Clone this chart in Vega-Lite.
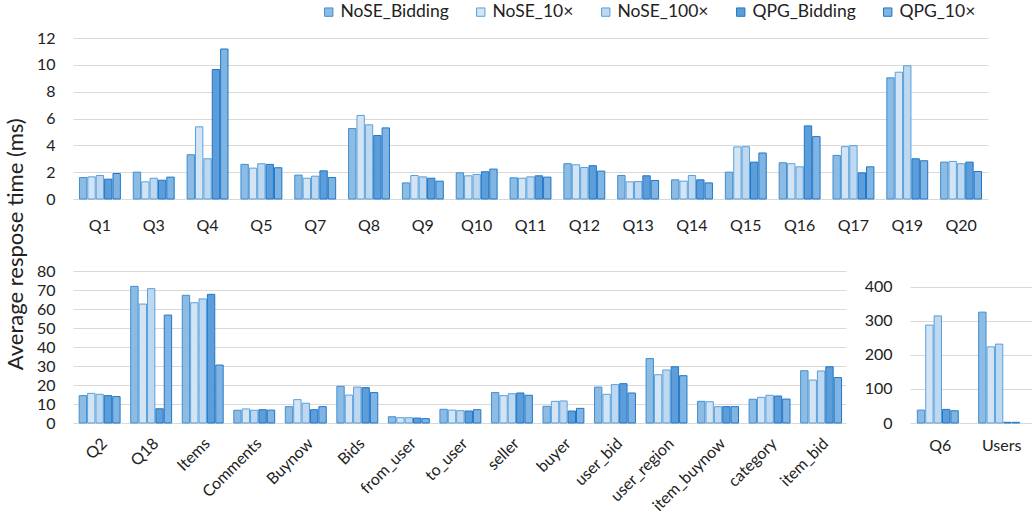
{
  "$schema": "https://vega.github.io/schema/vega-lite/v6.json",
  "background": "white",
  "padding": {"left": 4, "top": 3, "right": 0, "bottom": 0},
  "title": {
    "text": "Average respose time (ms)",
    "orient": "left",
    "anchor": "middle",
    "font": "Lato",
    "fontSize": 22,
    "fontWeight": "normal",
    "color": "#222222",
    "offset": 3,
    "dx": 14
  },
  "config": {
    "view": {"stroke": null},
    "font": "Lato",
    "axis": {
      "labelFont": "Lato",
      "labelFontSize": 16,
      "labelColor": "#222222",
      "domain": false,
      "ticks": false,
      "title": null,
      "gridColor": "#d9d9d9",
      "gridWidth": 1
    },
    "axisX": {"grid": false, "labelPadding": 18},
    "axisY": {"labelPadding": 18},
    "bar": {"strokeWidth": 1},
    "legend": {
      "labelFont": "Lato",
      "labelFontSize": 17.5,
      "labelColor": "#222222",
      "symbolType": "square",
      "symbolSize": 70,
      "symbolStrokeWidth": 1,
      "columnPadding": 23,
      "labelOffset": 3
    }
  },
  "datasets": {
    "queries": [
      {"q": "Q1", "NoSE_Bidding": 1.6, "NoSE_10×": 1.65, "NoSE_100×": 1.75, "QPG_Bidding": 1.48, "QPG_10×": 1.9},
      {"q": "Q3", "NoSE_Bidding": 2.0, "NoSE_10×": 1.28, "NoSE_100×": 1.55, "QPG_Bidding": 1.4, "QPG_10×": 1.63},
      {"q": "Q4", "NoSE_Bidding": 3.3, "NoSE_10×": 5.38, "NoSE_100×": 3.0, "QPG_Bidding": 9.65, "QPG_10×": 11.18},
      {"q": "Q5", "NoSE_Bidding": 2.58, "NoSE_10×": 2.3, "NoSE_100×": 2.63, "QPG_Bidding": 2.58, "QPG_10×": 2.33},
      {"q": "Q7", "NoSE_Bidding": 1.78, "NoSE_10×": 1.55, "NoSE_100×": 1.7, "QPG_Bidding": 2.1, "QPG_10×": 1.6},
      {"q": "Q8", "NoSE_Bidding": 5.25, "NoSE_10×": 6.23, "NoSE_100×": 5.53, "QPG_Bidding": 4.73, "QPG_10×": 5.3},
      {"q": "Q9", "NoSE_Bidding": 1.2, "NoSE_10×": 1.75, "NoSE_100×": 1.65, "QPG_Bidding": 1.55, "QPG_10×": 1.33},
      {"q": "Q10", "NoSE_Bidding": 1.95, "NoSE_10×": 1.73, "NoSE_100×": 1.83, "QPG_Bidding": 2.03, "QPG_10×": 2.23},
      {"q": "Q11", "NoSE_Bidding": 1.58, "NoSE_10×": 1.55, "NoSE_100×": 1.65, "QPG_Bidding": 1.73, "QPG_10×": 1.63},
      {"q": "Q12", "NoSE_Bidding": 2.63, "NoSE_10×": 2.55, "NoSE_100×": 2.35, "QPG_Bidding": 2.48, "QPG_10×": 2.08},
      {"q": "Q13", "NoSE_Bidding": 1.75, "NoSE_10×": 1.28, "NoSE_100×": 1.3, "QPG_Bidding": 1.73, "QPG_10×": 1.38},
      {"q": "Q14", "NoSE_Bidding": 1.43, "NoSE_10×": 1.33, "NoSE_100×": 1.75, "QPG_Bidding": 1.43, "QPG_10×": 1.2},
      {"q": "Q15", "NoSE_Bidding": 2.0, "NoSE_10×": 3.88, "NoSE_100×": 3.9, "QPG_Bidding": 2.75, "QPG_10×": 3.43},
      {"q": "Q16", "NoSE_Bidding": 2.7, "NoSE_10×": 2.63, "NoSE_100×": 2.4, "QPG_Bidding": 5.45, "QPG_10×": 4.65},
      {"q": "Q17", "NoSE_Bidding": 3.25, "NoSE_10×": 3.9, "NoSE_100×": 3.98, "QPG_Bidding": 1.95, "QPG_10×": 2.4},
      {"q": "Q19", "NoSE_Bidding": 9.03, "NoSE_10×": 9.45, "NoSE_100×": 9.93, "QPG_Bidding": 3.0, "QPG_10×": 2.85},
      {"q": "Q20", "NoSE_Bidding": 2.75, "NoSE_10×": 2.8, "NoSE_100×": 2.63, "QPG_Bidding": 2.75, "QPG_10×": 2.05}
    ],
    "entities": [
      {"q": "Q2", "NoSE_Bidding": 14.4, "NoSE_10×": 15.6, "NoSE_100×": 15.1, "QPG_Bidding": 14.4, "QPG_10×": 13.9},
      {"q": "Q18", "NoSE_Bidding": 71.9, "NoSE_10×": 62.6, "NoSE_100×": 70.7, "QPG_Bidding": 7.5, "QPG_10×": 56.8},
      {"q": "Items", "NoSE_Bidding": 67.2, "NoSE_10×": 63.3, "NoSE_100×": 65.3, "QPG_Bidding": 67.7, "QPG_10×": 30.5},
      {"q": "Comments", "NoSE_Bidding": 6.7, "NoSE_10×": 7.4, "NoSE_100×": 6.7, "QPG_Bidding": 7.0, "QPG_10×": 6.8},
      {"q": "Buynow", "NoSE_Bidding": 8.6, "NoSE_10×": 12.3, "NoSE_100×": 10.4, "QPG_Bidding": 7.0, "QPG_10×": 8.6},
      {"q": "Bids", "NoSE_Bidding": 19.3, "NoSE_10×": 14.7, "NoSE_100×": 18.9, "QPG_Bidding": 18.6, "QPG_10×": 16.0},
      {"q": "from_user", "NoSE_Bidding": 3.3, "NoSE_10×": 2.8, "NoSE_100×": 2.8, "QPG_Bidding": 2.6, "QPG_10×": 2.3},
      {"q": "to_user", "NoSE_Bidding": 7.2, "NoSE_10×": 6.8, "NoSE_100×": 6.5, "QPG_Bidding": 6.3, "QPG_10×": 7.0},
      {"q": "seller", "NoSE_Bidding": 16.0, "NoSE_10×": 14.4, "NoSE_100×": 15.4, "QPG_Bidding": 15.8, "QPG_10×": 14.6},
      {"q": "buyer", "NoSE_Bidding": 8.8, "NoSE_10×": 11.4, "NoSE_100×": 11.6, "QPG_Bidding": 6.3, "QPG_10×": 7.7},
      {"q": "user_bid", "NoSE_Bidding": 18.9, "NoSE_10×": 15.1, "NoSE_100×": 20.2, "QPG_Bidding": 20.7, "QPG_10×": 15.8},
      {"q": "user_region", "NoSE_Bidding": 33.9, "NoSE_10×": 25.4, "NoSE_100×": 27.9, "QPG_Bidding": 29.6, "QPG_10×": 24.9},
      {"q": "item_buynow", "NoSE_Bidding": 11.4, "NoSE_10×": 11.2, "NoSE_100×": 8.6, "QPG_Bidding": 8.6, "QPG_10×": 8.6},
      {"q": "category", "NoSE_Bidding": 12.5, "NoSE_10×": 13.5, "NoSE_100×": 14.6, "QPG_Bidding": 14.2, "QPG_10×": 12.6},
      {"q": "item_bid", "NoSE_Bidding": 27.5, "NoSE_10×": 22.6, "NoSE_100×": 27.4, "QPG_Bidding": 29.6, "QPG_10×": 23.9}
    ],
    "heavy": [
      {"q": "Q6", "NoSE_Bidding": 38, "NoSE_10×": 288, "NoSE_100×": 315, "QPG_Bidding": 40, "QPG_10×": 36},
      {"q": "Users", "NoSE_Bidding": 326, "NoSE_10×": 224, "NoSE_100×": 232, "QPG_Bidding": 2, "QPG_10×": 2}
    ]
  },
  "align": "none",
  "vconcat": [
    {
      "width": 915,
      "height": 161,
      "data": {"name": "queries"},
      "transform": [
        {"fold": ["NoSE_Bidding", "NoSE_10×", "NoSE_100×", "QPG_Bidding", "QPG_10×"], "as": ["series", "value"]}
      ],
      "mark": {"type": "bar"},
      "encoding": {
        "x": {"field": "q", "type": "nominal", "sort": null, "scale": {"paddingInner": 0.24, "paddingOuter": 0.12}, "axis": {"labelAngle": 0}},
        "xOffset": {"field": "series", "type": "nominal", "scale": {"domain": ["NoSE_Bidding", "NoSE_10×", "NoSE_100×", "QPG_Bidding", "QPG_10×"], "paddingInner": 0.12}},
        "y": {"field": "value", "type": "quantitative", "scale": {"domain": [0, 12], "nice": false}, "axis": {"values": [0, 2, 4, 6, 8, 10, 12]}},
        "fill": {
          "field": "series", "type": "nominal",
          "scale": {"domain": ["NoSE_Bidding", "NoSE_10×", "NoSE_100×", "QPG_Bidding", "QPG_10×"], "range": ["#8cbbe4", "#d3e5f5", "#bdd8f0", "#5d9dd9", "#80b4e3"]},
          "legend": {"orient": "none", "direction": "horizontal", "legendX": 247, "legendY": -35, "title": null}
        },
        "stroke": {
          "field": "series", "type": "nominal",
          "scale": {"domain": ["NoSE_Bidding", "NoSE_10×", "NoSE_100×", "QPG_Bidding", "QPG_10×"], "range": ["#3f8fd2", "#5aa0da", "#5aa0da", "#1f77c9", "#1f77c9"]},
          "legend": {"orient": "none", "direction": "horizontal", "legendX": 247, "legendY": -35, "title": null}
        }
      }
    },
    {
      "spacing": 18,
      "hconcat": [
        {
          "width": 773,
          "height": 152,
          "data": {"name": "entities"},
          "transform": [
            {"fold": ["NoSE_Bidding", "NoSE_10×", "NoSE_100×", "QPG_Bidding", "QPG_10×"], "as": ["series", "value"]}
          ],
          "mark": {"type": "bar"},
          "encoding": {
            "x": {"field": "q", "type": "nominal", "sort": null, "scale": {"paddingInner": 0.24, "paddingOuter": 0.12}, "axis": {"labelAngle": -45, "labelPadding": 12}},
            "xOffset": {"field": "series", "type": "nominal", "scale": {"domain": ["NoSE_Bidding", "NoSE_10×", "NoSE_100×", "QPG_Bidding", "QPG_10×"], "paddingInner": 0.12}},
            "y": {"field": "value", "type": "quantitative", "scale": {"domain": [0, 80], "nice": false}, "axis": {"values": [0, 10, 20, 30, 40, 50, 60, 70, 80], "minExtent": 42}},
            "fill": {"field": "series", "type": "nominal", "legend": null},
            "stroke": {"field": "series", "type": "nominal", "legend": null}
          }
        },
        {
          "width": 122,
          "height": 152,
          "data": {"name": "heavy"},
          "transform": [
            {"fold": ["NoSE_Bidding", "NoSE_10×", "NoSE_100×", "QPG_Bidding", "QPG_10×"], "as": ["series", "value"]}
          ],
          "mark": {"type": "bar"},
          "encoding": {
            "x": {"field": "q", "type": "nominal", "sort": null, "scale": {"paddingInner": 0.25, "paddingOuter": 0.12}, "axis": {"labelAngle": 0, "labelPadding": 14}},
            "xOffset": {"field": "series", "type": "nominal", "scale": {"domain": ["NoSE_Bidding", "NoSE_10×", "NoSE_100×", "QPG_Bidding", "QPG_10×"], "paddingInner": 0.12}},
            "y": {"field": "value", "type": "quantitative", "scale": {"domain": [0, 447], "nice": false}, "axis": {"values": [0, 100, 200, 300, 400]}},
            "fill": {"field": "series", "type": "nominal", "legend": null},
            "stroke": {"field": "series", "type": "nominal", "legend": null}
          }
        }
      ]
    }
  ],
  "spacing": 30
}
